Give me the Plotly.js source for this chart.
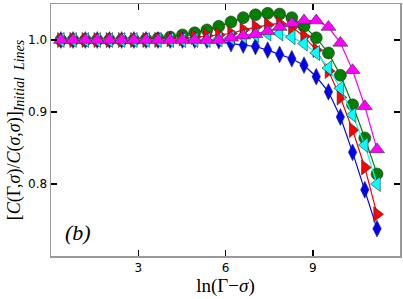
<!DOCTYPE html>
<html>
<head>
<meta charset="utf-8">
<script src="https://cdn.plot.ly/plotly-3.0.1.min.js"></script>
<style>html,body{margin:0;padding:0;background:#fff;}#chart{width:403px;height:299px;}</style>
</head>
<body>
<div id="chart"></div>
<script>
// x positions: ln(Gamma - sigma)
const lnGammaMinusSigma = [0.34,0.76,1.18,1.59,2.01,2.43,2.85,3.27,3.68,4.10,4.52,4.94,5.36,5.77,6.19,6.61,7.03,7.45,7.86,8.28,8.70,9.12,9.54,9.95,10.37,10.79,11.21];

const greenCircles = [1.0,1.0,1.0,1.0,1.0,1.0,1.0,1.001,1.002,1.004,1.007,1.010,1.014,1.019,1.025,1.031,1.035,1.037,1.036,1.031,1.019,1.003,0.982,0.951,0.910,0.864,0.814];
const blueDiamonds = [1.0,1.0,1.0,1.0,1.0,1.0,1.0,1.0,1.0,1.0,1.0,1.0,1.0,0.999,0.995,0.993,0.991,0.986,0.980,0.974,0.965,0.949,0.928,0.893,0.844,0.792,0.738];
const redTriangles = [1.0,1.0,1.0,1.0,1.0,1.0,1.0,1.0,1.0,1.001,1.002,1.004,1.006,1.007,1.009,1.014,1.018,1.021,1.023,1.018,1.005,0.986,0.957,0.920,0.875,0.823,0.758];
const cyanTriangles = [1.0,1.0,1.0,1.0,1.0,1.0,1.0,1.0,1.0,1.0,1.0,1.0,1.0,1.001,1.003,1.005,1.007,1.009,1.009,1.004,0.995,0.982,0.961,0.933,0.896,0.854,0.800];
const magentaTriangles = [1.0,1.0,1.0,1.0,1.0,1.0,1.0,1.0,1.0,1.0,1.0,1.0,1.0,1.0,1.003,1.006,1.008,1.012,1.018,1.023,1.027,1.027,1.018,0.996,0.958,0.908,0.848];

const xTickVals = [3,6,9];
const xTickText = ['3','6','9'];
const yTickVals = [0.8,0.9,1.0];
const yTickText = ['0.8','0.9','1.0'];

function series(y, color, symbol, size) {
  return {
    x: lnGammaMinusSigma, y: y, type: 'scatter', mode: 'lines+markers',
    line: {color: color, width: 1.2},
    marker: {color: color, symbol: symbol, size: size, line: {color: '#333', width: 0.6}},
    hoverinfo: 'skip', showlegend: false, cliponaxis: false
  };
}

const data = [
  series(greenCircles, '#007f00', 'circle', 12),
  series(blueDiamonds, '#0000ff', 'diamond-tall', 12),
  series(redTriangles, '#ff0000', 'triangle-right', 13),
  series(cyanTriangles, '#00ffff', 'triangle-left', 13),
  series(magentaTriangles, '#ff00ff', 'triangle-up', 13)
];

const layout = {
  width: 403, height: 299,
  margin: {l: 51, r: 3, t: 4, b: 43},
  paper_bgcolor: '#fff', plot_bgcolor: '#fff',
  showlegend: false,
  xaxis: {
    range: [0, 12], tickvals: xTickVals, ticktext: xTickText,
    ticks: 'inside', ticklen: 6, tickwidth: 1.5, tickcolor: '#000',
    showline: true, linecolor: '#999', linewidth: 1.5, mirror: 'allticks',
    showgrid: false, zeroline: false,
    tickfont: {family: 'DejaVu Sans', size: 12, color: '#000'},
    title: {text: 'ln(Γ−<i>σ</i>)', font: {family: 'Liberation Serif', size: 19, color: '#000'}, standoff: 1}
  },
  yaxis: {
    range: [0.7, 1.05], tickvals: yTickVals, ticktext: yTickText,
    ticks: 'inside', ticklen: 6, tickwidth: 1.5, tickcolor: '#000',
    showline: true, linecolor: '#999', linewidth: 1.5, mirror: 'allticks',
    showgrid: false, zeroline: false,
    tickfont: {family: 'DejaVu Sans', size: 12, color: '#000'},
    title: {text: '[<i>C</i>(Γ,<i>σ</i>)/<i>C</i>(<i>σ</i>,<i>σ</i>)]<sub><span style="font-size:14px"><i>Initial  Lines</i></span></sub>', font: {family: 'Liberation Serif', size: 18, color: '#000'}, standoff: 2}
  },
  annotations: [{
    xref: 'paper', yref: 'paper', x: 0.034, y: 0.095, xanchor: 'left', yanchor: 'middle',
    text: '<i>(b)</i>', showarrow: false,
    font: {family: 'Liberation Serif', size: 22, color: '#000'}
  }]
};

Plotly.newPlot('chart', data, layout, {staticPlot: true, displayModeBar: false});
</script>
</body>
</html>
